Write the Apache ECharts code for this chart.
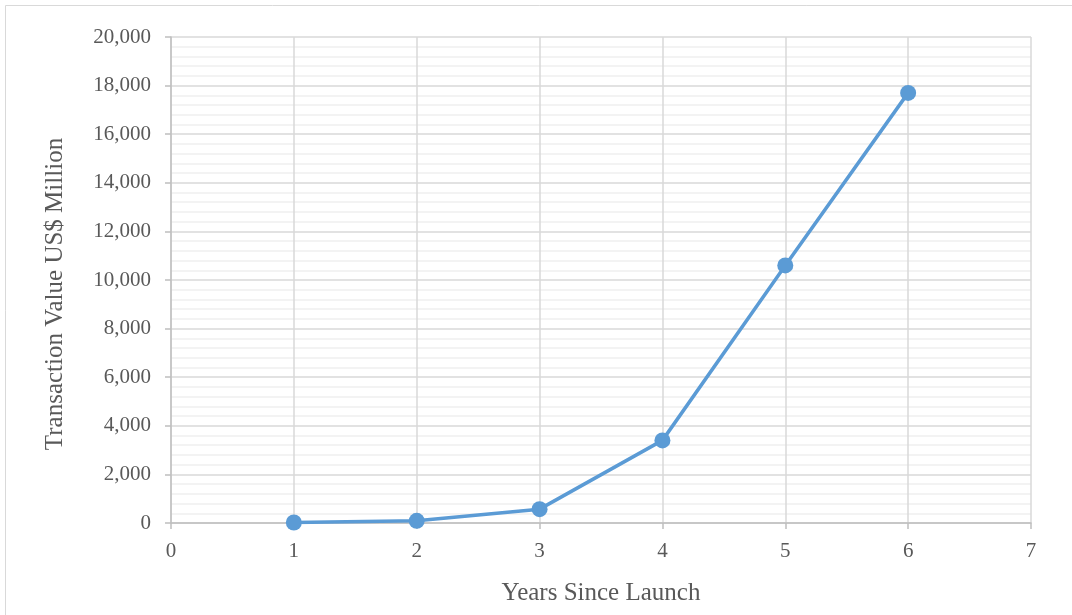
<!DOCTYPE html>
<html>
<head>
<meta charset="utf-8">
<script src="https://cdn.jsdelivr.net/npm/echarts@6/dist/echarts.min.js"></script>
<style>
  html, body { margin: 0; padding: 0; background: #fff; }
  #chart { width: 1072px; height: 615px; }
</style>
</head>
<body>
<div id="chart"></div>
<script>
// Years since launch and transaction value (US$ million)
const years = [1, 2, 3, 4, 5, 6];
const transactionValue = [20, 90, 570, 3400, 10600, 17700];
const xAxisTitle = 'Years Since Launch';
const yAxisTitle = 'Transaction Value US$ Million';

const FONT = '"Liberation Serif", "DejaVu Serif", serif';
const TEXT = '#595959';

const chart = echarts.init(document.getElementById('chart'));
chart.setOption({
  animation: false,
  backgroundColor: '#fff',
  textStyle: { fontFamily: FONT },
  graphic: [{
    type: 'rect',
    shape: { x: 5.5, y: 5.5, width: 1080, height: 620 },
    style: { fill: 'none', stroke: '#d9d9d9', lineWidth: 1 },
    silent: true
  }],
  grid: { left: 171, right: 41, top: 37, bottom: 92, containLabel: false },
  xAxis: {
    type: 'value',
    min: 0, max: 7, interval: 1,
    name: xAxisTitle,
    nameLocation: 'middle',
    nameGap: 58,
    nameTextStyle: { fontFamily: FONT, fontSize: 25, color: TEXT },
    axisLine: { show: true, onZero: false, lineStyle: { color: '#bfbfbf', width: 1.5 } },
    axisTick: { show: true, length: 6, lineStyle: { color: '#bfbfbf', width: 1.5 } },
    axisLabel: { fontFamily: FONT, fontSize: 21, color: TEXT, margin: 18 },
    splitLine: { show: true, lineStyle: { color: '#d9d9d9', width: 1.5 } }
  },
  yAxis: {
    type: 'value',
    min: 0, max: 20000, interval: 2000,
    name: yAxisTitle,
    nameLocation: 'middle',
    nameGap: 103,
    nameRotate: 90,
    nameTextStyle: { fontFamily: FONT, fontSize: 25, color: TEXT, padding: [0, 28, 0, 0] },
    axisLine: { show: true, lineStyle: { color: '#bfbfbf', width: 1.5 } },
    axisTick: { show: true, length: 6, lineStyle: { color: '#bfbfbf', width: 1.5 } },
    axisLabel: {
      fontFamily: FONT, fontSize: 21, color: TEXT, margin: 20,
      formatter: v => v.toLocaleString('en-US')
    },
    splitLine: { show: true, lineStyle: { color: '#d9d9d9', width: 1.5 } },
    minorTick: { show: false, splitNumber: 5 },
    minorSplitLine: { show: true, lineStyle: { color: '#f0f0f0', width: 1.5 } }
  },
  series: [{
    type: 'line',
    data: years.map((y, i) => [y, transactionValue[i]]),
    symbol: 'circle',
    symbolSize: 16,
    lineStyle: { color: '#5b9bd5', width: 3.5 },
    itemStyle: { color: '#5b9bd5' },
    z: 5
  }]
});
</script>
</body>
</html>
